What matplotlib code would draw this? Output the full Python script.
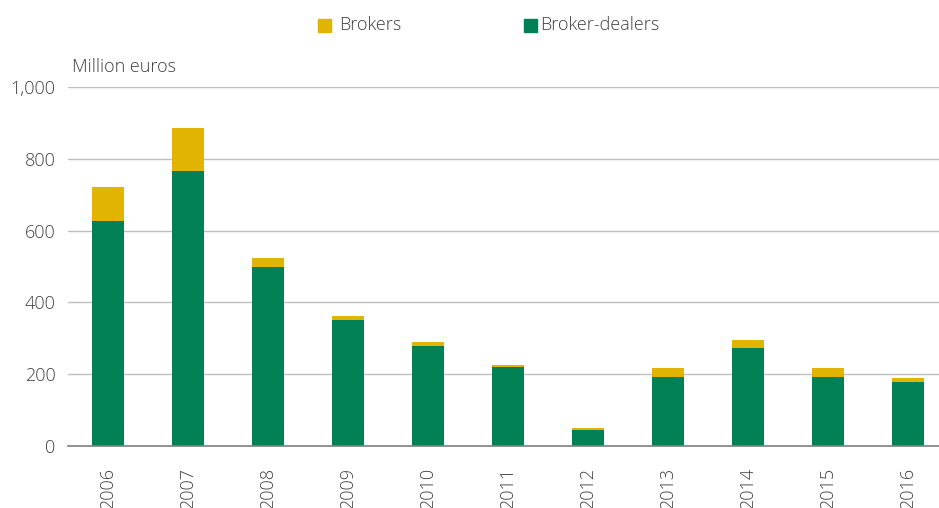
import numpy as np
import matplotlib.pyplot as plt

years = ['2006', '2007', '2008', '2009', '2010', '2011', '2012', '2013', '2014', '2015', '2016']
broker_dealers = [628, 767, 500, 350, 278, 219, 44, 193, 272, 193, 179]
brokers = [94, 119, 25, 11, 11, 6, 6, 23, 22, 23, 11]

green = '#008055'
yellow = '#E0B400'
text_col = '#404040'

plt.rcParams['font.family'] = ['Open Sans', 'DejaVu Sans']
plt.rcParams['font.weight'] = 'light'

fig = plt.figure(figsize=(9.39, 5.08), dpi=100)
W, H = 939, 508
ax = fig.add_axes([68 / W, 1 - 446 / H, 1 - 68 / W, (446 - 87) / H])

x = np.arange(len(years))
ax.bar(x, broker_dealers, width=0.4, color=green, zorder=3)
ax.bar(x, brokers, width=0.4, bottom=broker_dealers, color=yellow, zorder=3)

ax.set_xlim(-0.5, 10.39)
ax.set_ylim(0, 1000)
ax.set_yticks(range(0, 1001, 200))
ax.set_yticklabels(['{:,}'.format(v) for v in range(0, 1001, 200)])
ax.set_xticks(x)
ax.set_xticklabels(years, rotation=90, va='top')
ax.tick_params(axis='both', length=0, labelsize=13, labelcolor=text_col)
ax.tick_params(axis='y', pad=9)
ax.tick_params(axis='x', pad=16)

ax.grid(axis='y', color='#BFBFBF', linewidth=1, zorder=0)
for s in ['top', 'right', 'left']:
    ax.spines[s].set_visible(False)
ax.spines['bottom'].set_color('#7F7F7F')
ax.spines['bottom'].set_linewidth(1.2)
ax.spines['bottom'].set_zorder(4)

fig.text(72 / W, 1 - 67 / H, 'Million euros', fontsize=13, color=text_col, va='center', ha='left')

# legend
fig.patches.append(plt.Rectangle((318 / W, 1 - 32 / H), 13 / W, 13 / H, transform=fig.transFigure,
                                 color=yellow, figure=fig))
fig.text(339 / W, 1 - 25 / H, 'Brokers', fontsize=13, color=text_col, va='center', ha='left')
fig.patches.append(plt.Rectangle((524 / W, 1 - 32 / H), 13 / W, 13 / H, transform=fig.transFigure,
                                 color=green, figure=fig))
fig.text(540 / W, 1 - 25 / H, 'Broker-dealers', fontsize=13, color=text_col, va='center', ha='left')

fig.savefig('out.png', dpi=100)
